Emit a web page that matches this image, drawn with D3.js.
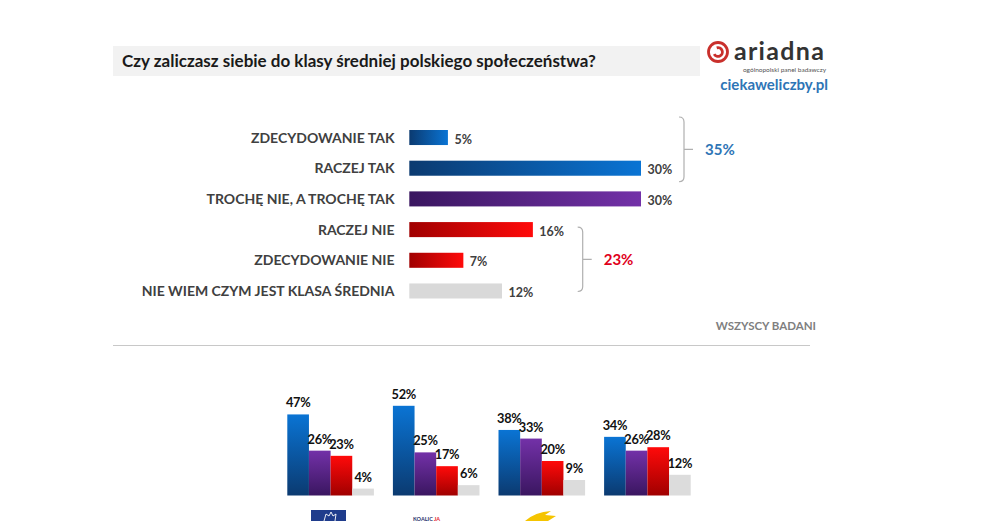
<!DOCTYPE html>
<html><head><meta charset="utf-8">
<script src="https://cdn.jsdelivr.net/npm/d3@7"></script>
<style>
html,body{margin:0;padding:0;background:#fff;}
svg{display:block;font-family:Lato,"Liberation Sans",Arial,sans-serif;}
</style></head>
<body>
<svg id="chart" width="989" height="521"></svg>
<script>
// ---- data ----
const title = "Czy zaliczasz siebie do klasy średniej polskiego społeczeństwa?";
const categories = ["ZDECYDOWANIE TAK","RACZEJ TAK","TROCHĘ NIE, A TROCHĘ TAK","RACZEJ NIE","ZDECYDOWANIE NIE","NIE WIEM CZYM JEST KLASA ŚREDNIA"];
const values = [5,30,30,16,7,12];
const colorKeys = ["blue","blue","purple","red","red","grey"];
const bracketFrom = [0,3];
const bracketTo = [1,5];
const bracketLabels = ["35%","23%"];
const bracketColors = ["#2e75b6","#e0001b"];
const subsetLabel = "WSZYSCY BADANI";

const groups = ["G1","G2","G3","G4"];
const seriesKeys = ["blue","purple","red","grey"];
const seriesTak = [47,52,38,34];
const seriesTroche = [26,25,33,26];
const seriesNie = [23,17,20,28];
const seriesNieWiem = [4,6,9,12];

// ---- setup ----
const svg = d3.select("#chart");
const defs = svg.append("defs");
const gradStops = {
  blue:["#0b3a70","#0a74d4"],
  purple:["#3a1660","#7331a8"],
  red:["#a00000","#ff0a0a"]
};
Object.entries(gradStops).forEach(([k,c])=>{
  const h = defs.append("linearGradient").attr("id","h-"+k).attr("x1","0").attr("x2","1").attr("y1","0").attr("y2","0");
  h.append("stop").attr("offset","0").attr("stop-color",c[0]);
  h.append("stop").attr("offset","1").attr("stop-color",c[1]);
  const v = defs.append("linearGradient").attr("id","v-"+k).attr("x1","0").attr("x2","0").attr("y1","1").attr("y2","0");
  v.append("stop").attr("offset","0").attr("stop-color",c[0]);
  v.append("stop").attr("offset","1").attr("stop-color",c[1]);
});
const fillH = k => k==="grey" ? "#d9d9d9" : `url(#h-${k})`;
const fillV = k => k==="grey" ? "#dcdcdc" : `url(#v-${k})`;

// title box
svg.append("rect").attr("x",113).attr("y",46).attr("width",587).attr("height",30).attr("fill","#f2f2f2");
svg.append("text").attr("x",122).attr("y",67).attr("font-size",17).attr("font-weight","bold")
  .attr("fill","#1a1a1a").text(title);

// logo
const logo = svg.append("g");
logo.append("circle").attr("cx",718).attr("cy",52).attr("r",9.5).attr("fill","none").attr("stroke","#c9302c").attr("stroke-width",2.8);
logo.append("path").attr("d",d3.arc()({innerRadius:3,outerRadius:5.8,startAngle:-0.3,endAngle:4.2}))
  .attr("transform","translate(718,52)").attr("fill","#c9302c");
logo.append("text").attr("x",734).attr("y",60).attr("font-size",25).attr("font-weight","bold").attr("fill","#333")
  .attr("letter-spacing",1.3).text("ariadna");
logo.append("text").attr("x",826).attr("y",72).attr("text-anchor","end").attr("font-size",6.5).attr("fill","#555").text("ogólnopolski panel badawczy");
logo.append("text").attr("x",828).attr("y",90).attr("text-anchor","end").attr("font-size",15).attr("font-weight","bold").attr("fill","#2e75b6").text("ciekaweliczby.pl");

// ---- top chart ----
const x = d3.scaleLinear().domain([0,30]).range([409.3,641]);
const y = d3.scaleBand().domain(categories).range([130,298.5]).paddingInner(0.51).paddingOuter(0);

const topG = svg.append("g");
topG.selectAll("rect.bar").data(categories).join("rect").attr("class","bar")
  .attr("x",x(0)).attr("y",d=>y(d)).attr("height",y.bandwidth())
  .attr("width",(d,i)=>x(values[i])-x(0)).attr("fill",(d,i)=>fillH(colorKeys[i]));
topG.selectAll("text.cat").data(categories).join("text").attr("class","cat")
  .attr("x",394.5).attr("y",d=>y(d)+y.bandwidth()/2).attr("dy","0.36em")
  .attr("text-anchor","end").attr("font-size",14).attr("font-weight","bold").attr("fill","#404040").text(d=>d);
topG.selectAll("text.val").data(categories).join("text").attr("class","val")
  .attr("x",(d,i)=>x(values[i])+6.5).attr("y",d=>y(d)+y.bandwidth()/2+1.5).attr("dy","0.36em")
  .attr("font-size",12.5).attr("font-weight","bold").attr("fill","#404040").text((d,i)=>values[i]+"%");

// brackets
const bx = [684,582.7];
bracketFrom.forEach((f,i)=>{
  const y0 = y(categories[f]) + (i===0 ? -13 : 5);
  const y1 = y(categories[bracketTo[i]]) + y.bandwidth() + (i===0 ? 6 : -7);
  const xm = bx[i], ym = (y0+y1)/2;
  const p = d3.path();
  p.moveTo(xm-5,y0); p.quadraticCurveTo(xm,y0,xm,y0+5);
  p.lineTo(xm,y1-5); p.quadraticCurveTo(xm,y1,xm-5,y1);
  p.moveTo(xm,ym); p.lineTo(xm+9,ym);
  svg.append("path").attr("d",p.toString()).attr("fill","none").attr("stroke","#b0b0b0").attr("stroke-width",1.2);
  svg.append("text").attr("x",xm+21).attr("y",ym).attr("dy","0.36em").attr("font-size",15).attr("font-weight","bold")
    .attr("fill",bracketColors[i]).text(bracketLabels[i]);
});

svg.append("text").attr("x",816).attr("y",330).attr("text-anchor","end").attr("font-size",11.5).attr("font-weight","bold")
  .attr("fill","#7f7f7f").text(subsetLabel);
svg.append("line").attr("x1",113).attr("x2",810).attr("y1",345.5).attr("y2",345.5).attr("stroke","#c8c8c8").attr("stroke-width",1.2);

// ---- bottom chart ----
const gx = d3.scaleBand().domain(groups).range([287.3,690.7]).paddingInner(0.18).paddingOuter(0);
const sx = d3.scaleBand().domain(seriesKeys).range([0,gx.bandwidth()]).padding(0);
const gy = d3.scaleLinear().domain([0,52]).range([495.5,405.8]);
const seriesVals = [seriesTak,seriesTroche,seriesNie,seriesNieWiem];

const bot = svg.append("g");
groups.forEach((g,gi)=>{
  const gg = bot.append("g").attr("transform",`translate(${gx(g)},0)`);
  const data = seriesKeys.map((k,si)=>({k,v:seriesVals[si][gi]}));
  gg.selectAll("rect").data(data).join("rect")
    .attr("x",d=>sx(d.k)).attr("width",sx.bandwidth())
    .attr("y",d=>gy(d.v)).attr("height",d=>gy(0)-gy(d.v)).attr("fill",d=>fillV(d.k));
  gg.selectAll("text").data(data).join("text")
    .attr("x",d=>sx(d.k)+sx.bandwidth()/2).attr("y",d=>gy(d.v)-7)
    .attr("text-anchor","middle").attr("font-size",12.8).attr("letter-spacing",-0.3).attr("font-weight","bold").attr("fill","#111").text(d=>d.v+"%");
});

// party logos (partially visible at bottom edge)
const lg = svg.append("g");
lg.append("rect").attr("x",311).attr("y",510).attr("width",35).attr("height",12).attr("fill","#1f3c8c");
lg.append("path").attr("d","M324,521 L326,514 L329,516 L331,512 L333,516 L336,514 L335,521").attr("fill","none").attr("stroke","#fff").attr("stroke-width",0.9);
lg.append("text").attr("x",413).attr("y",520.5).attr("font-size",5.5).attr("font-weight","bold").attr("fill","#27336b").text("KOALIC");
lg.append("text").attr("x",434).attr("y",520.5).attr("font-size",5.5).attr("font-weight","bold").attr("fill","#e3262f").text("JA");
lg.append("path").attr("d","M525,521 Q535,512 551,511 L545,515 L556,516 L548,521 Z").attr("fill","#f5c400");
</script>
</body></html>
